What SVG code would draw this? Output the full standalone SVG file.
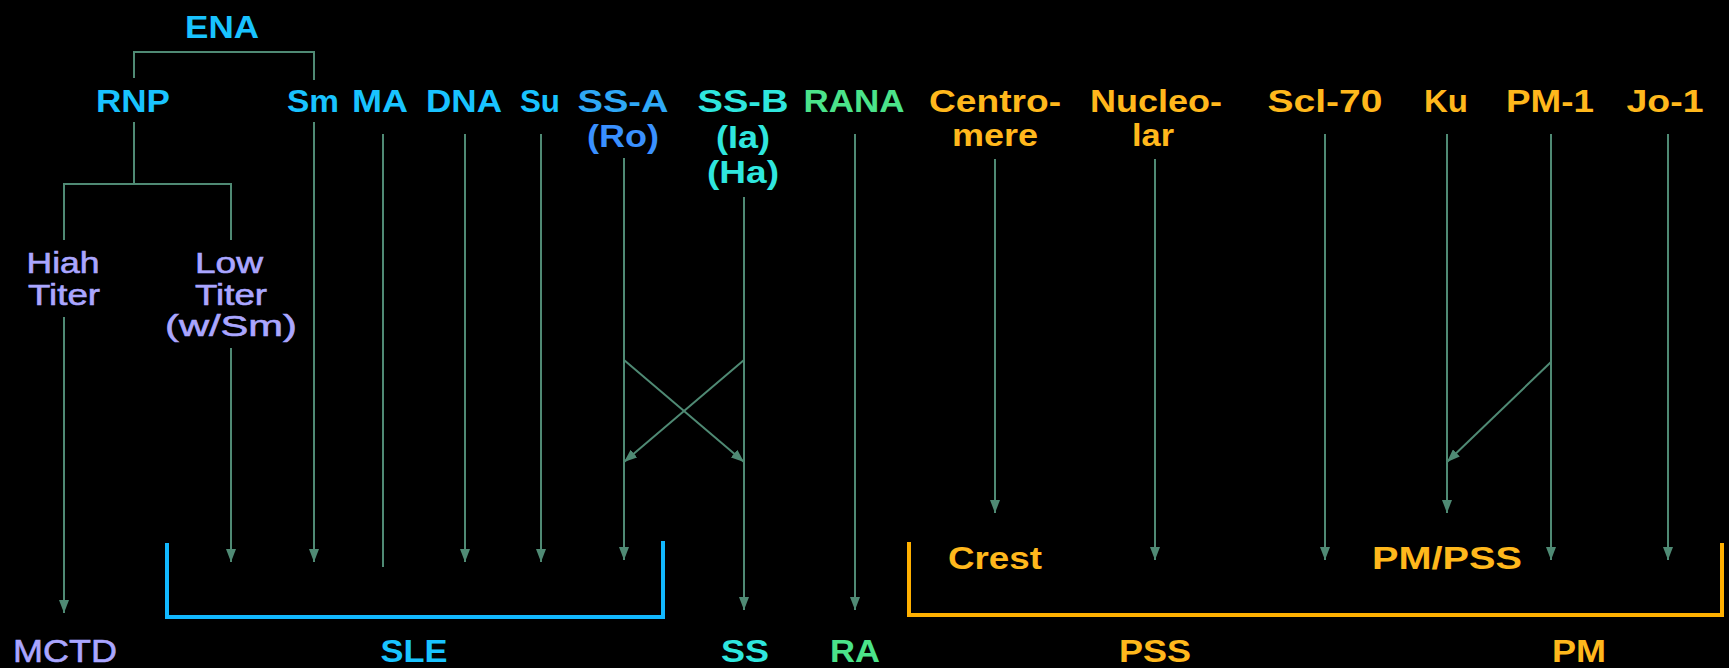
<svg xmlns="http://www.w3.org/2000/svg" width="1729" height="668" viewBox="0 0 1729 668">
<style>
text{font-family:"Liberation Sans",Arial,sans-serif;font-size:31px;font-weight:bold;text-anchor:middle}
.b{fill:#19c3ff}
.sa{fill:#2fa8f6}
.ro{fill:#3a90ff}
.c{fill:#2fe6de}
.g{fill:#4be38a}
.y{fill:#ffb81c}
.l{fill:#aaa6ff;stroke:#aaa6ff;font-size:29px;font-weight:normal;stroke-width:0.6}
.ln{fill:none;stroke:#4f8a74;stroke-width:2}
.ar{marker-end:url(#ah)}
.br{fill:none;stroke-width:4}
</style>
<defs>
<marker id="ah" viewBox="0 0 13 10" markerWidth="13" markerHeight="10" refX="13" refY="5" orient="auto" markerUnits="userSpaceOnUse">
<path d="M0,0 L13,5 L0,10 z" fill="#4f8a74"/>
</marker>
</defs>
<rect width="1729" height="668" fill="#000"/>
<g id="connectors">
<path class="ln" d="M134,78 V52 H314 V80"/>
<path class="ln" d="M134,122 V184"/>
<path class="ln" d="M64,240 V184 H231 V240"/>
<path class="ln ar" d="M64,317 V613"/>
<path class="ln ar" d="M231,348 V562"/>
<path class="ln ar" d="M314,122 V562"/>
<path class="ln" d="M383,134 V567"/>
<path class="ln ar" d="M465,134 V562"/>
<path class="ln ar" d="M541,134 V562"/>
<path class="ln ar" d="M624,158 V560"/>
<path class="ln ar" d="M744,197 V610"/>
<path class="ln ar" d="M624,360 L744,462"/>
<path class="ln ar" d="M744,360 L624,462"/>
<path class="ln ar" d="M855,134 V610"/>
<path class="ln ar" d="M995,159 V513"/>
<path class="ln ar" d="M1155,159 V560"/>
<path class="ln ar" d="M1325,134 V560"/>
<path class="ln ar" d="M1447,134 V513"/>
<path class="ln ar" d="M1551,134 V560"/>
<path class="ln ar" d="M1551,362 L1447,462"/>
<path class="ln ar" d="M1668,134 V560"/>
</g>
<g id="bracket-sle"><path class="br" stroke="#12b8ff" d="M167,543 V617 H663 V541"/></g>
<g id="bracket-pss"><path class="br" stroke="#ffb000" d="M909,542 V615 H1722 V543"/></g>
<g id="n-ena"><text class="b" x="222" y="38" textLength="74" lengthAdjust="spacingAndGlyphs">ENA</text></g>
<g id="n-rnp"><text class="b" x="133" y="112" textLength="74" lengthAdjust="spacingAndGlyphs">RNP</text></g>
<g id="n-sm"><text class="b" x="313" y="112" textLength="52" lengthAdjust="spacingAndGlyphs">Sm</text></g>
<g id="n-ma"><text class="b" x="380" y="112" textLength="56" lengthAdjust="spacingAndGlyphs">MA</text></g>
<g id="n-dna"><text class="b" x="464" y="112" textLength="76" lengthAdjust="spacingAndGlyphs">DNA</text></g>
<g id="n-su"><text class="b" x="540" y="112" textLength="40" lengthAdjust="spacingAndGlyphs">Su</text></g>
<g id="n-ssa"><text class="sa" x="623" y="112" textLength="91" lengthAdjust="spacingAndGlyphs">SS-A</text><text class="ro" x="623" y="147" textLength="72" lengthAdjust="spacingAndGlyphs">(Ro)</text></g>
<g id="n-ssb"><text class="c" x="743" y="112" textLength="91" lengthAdjust="spacingAndGlyphs">SS-B</text><text class="c" x="743" y="148" textLength="54" lengthAdjust="spacingAndGlyphs">(Ia)</text><text class="c" x="743" y="183" textLength="72" lengthAdjust="spacingAndGlyphs">(Ha)</text></g>
<g id="n-rana"><text class="g" x="854" y="112" textLength="101" lengthAdjust="spacingAndGlyphs">RANA</text></g>
<g id="n-centromere"><text class="y" x="995" y="112" textLength="132" lengthAdjust="spacingAndGlyphs">Centro-</text><text class="y" x="995" y="146" textLength="86" lengthAdjust="spacingAndGlyphs">mere</text></g>
<g id="n-nucleolar"><text class="y" x="1156" y="112" textLength="132" lengthAdjust="spacingAndGlyphs">Nucleo-</text><text class="y" x="1153" y="146" textLength="42" lengthAdjust="spacingAndGlyphs">lar</text></g>
<g id="n-scl70"><text class="y" x="1325" y="112" textLength="115" lengthAdjust="spacingAndGlyphs">Scl-70</text></g>
<g id="n-ku"><text class="y" x="1446" y="112" textLength="44" lengthAdjust="spacingAndGlyphs">Ku</text></g>
<g id="n-pm1"><text class="y" x="1550" y="112" textLength="88" lengthAdjust="spacingAndGlyphs">PM-1</text></g>
<g id="n-jo1"><text class="y" x="1665" y="112" textLength="77" lengthAdjust="spacingAndGlyphs">Jo-1</text></g>
<g id="n-high"><text class="l" x="63" y="273" textLength="73" lengthAdjust="spacingAndGlyphs">Hiah</text><text class="l" x="64" y="305" textLength="72" lengthAdjust="spacingAndGlyphs">Titer</text></g>
<g id="n-low"><text class="l" x="229" y="273" textLength="68" lengthAdjust="spacingAndGlyphs">Low</text><text class="l" x="231" y="305" textLength="72" lengthAdjust="spacingAndGlyphs">Titer</text><text class="l" x="231" y="336" textLength="132" lengthAdjust="spacingAndGlyphs">(w/Sm)</text></g>
<g id="n-crest"><text class="y" x="995" y="569" textLength="94" lengthAdjust="spacingAndGlyphs">Crest</text></g>
<g id="n-pmpss"><text class="y" x="1447" y="569" textLength="150" lengthAdjust="spacingAndGlyphs">PM/PSS</text></g>
<g id="n-mctd"><text class="l" x="65" y="662" textLength="104" lengthAdjust="spacingAndGlyphs" style="font-size:31px">MCTD</text></g>
<g id="n-sle"><text class="b" x="414" y="662" textLength="67" lengthAdjust="spacingAndGlyphs">SLE</text></g>
<g id="n-ss"><text class="c" x="745" y="662" textLength="48" lengthAdjust="spacingAndGlyphs">SS</text></g>
<g id="n-ra"><text class="g" x="855" y="662" textLength="50" lengthAdjust="spacingAndGlyphs">RA</text></g>
<g id="n-pss"><text class="y" x="1155" y="662" textLength="72" lengthAdjust="spacingAndGlyphs">PSS</text></g>
<g id="n-pm"><text class="y" x="1579" y="662" textLength="54" lengthAdjust="spacingAndGlyphs">PM</text></g>
</svg>
